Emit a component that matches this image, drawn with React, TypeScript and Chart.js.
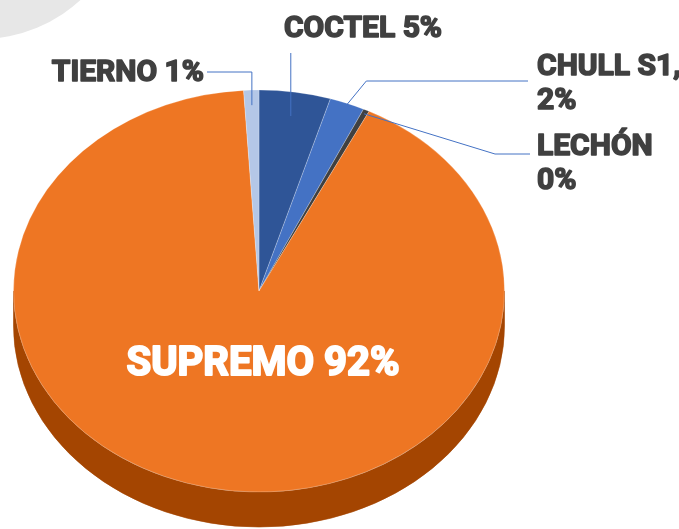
import React, { useEffect, useRef } from 'react';
import { Chart, registerables } from 'chart.js';

Chart.register(...registerables);

const categories = ['COCTEL', 'CHULL S1', 'LECHÓN', 'SUPREMO', 'TIERNO'];
const shares = [4.7, 2.3, 0.4, 91.6, 1.0];
const labelLines = [['COCTEL 5%'], ['CHULL S1,', '2%'], ['LECHÓN', '0%'], ['SUPREMO 92%'], ['TIERNO 1%']];
const topColors = ['#2F5597', '#4472C4', '#404040', '#EE7623', '#B4C7E7'];
const sideColors = ['#203C6B', '#2F528F', '#262626', '#A44501', '#8497B0'];

const CY = 291;
const RY = 201;
const DEPTH = 35;

function geom(chart: any) {
  const meta = chart.getDatasetMeta(0);
  const a = meta.data[0] as any;
  return { x: a.x, y: a.y, R: a.outerRadius, ky: RY / a.outerRadius, arcs: meta.data };
}

function applyT(ctx: CanvasRenderingContext2D, g: any, dy: number) {
  ctx.translate(g.x, CY + dy);
  ctx.scale(1, g.ky);
  ctx.translate(-g.x, -g.y);
}

const pie3d = {
  id: 'pie3d',
  beforeDraw(chart: any) {
    const ctx = chart.ctx;
    ctx.save();
    ctx.fillStyle = '#E7E7E7';
    ctx.beginPath();
    ctx.arc(-20, -110, 149, 0, Math.PI * 2);
    ctx.fill();
    ctx.restore();
  },
  beforeDatasetsDraw(chart: any) {
    const ctx: CanvasRenderingContext2D = chart.ctx;
    const g = geom(chart);
    const rx = g.R;
    const ry = RY;
    const TAU = Math.PI * 2;
    g.arcs.forEach((el: any, i: number) => {
      const p = el.getProps(['startAngle', 'endAngle'], true);
      [0, -TAU, TAU].forEach((shift) => {
        const s = Math.max(p.startAngle + shift, 0);
        const e = Math.min(p.endAngle + shift, Math.PI);
        if (e <= s) return;
        ctx.save();
        ctx.beginPath();
        ctx.ellipse(g.x, CY, rx, ry, 0, s, e, false);
        ctx.lineTo(g.x + Math.cos(e) * rx, CY + DEPTH + Math.sin(e) * ry);
        ctx.ellipse(g.x, CY + DEPTH, rx, ry, 0, e, s, true);
        ctx.closePath();
        ctx.fillStyle = sideColors[i];
        ctx.fill();
        ctx.strokeStyle = sideColors[i];
        ctx.lineWidth = 0.6;
        ctx.stroke();
        ctx.restore();
      });
    });
    ctx.save();
    applyT(ctx, g, 0);
  },
  afterDatasetsDraw(chart: any) {
    chart.ctx.restore();
  },
};

const labelPlugin = {
  id: 'pieLabels',
  afterDraw(chart: any) {
    const ctx: CanvasRenderingContext2D = chart.ctx;
    const g = geom(chart);
    const anchor = (i: number, f: number) => {
      const p = g.arcs[i].getProps(['startAngle', 'endAngle'], true);
      const a = (p.startAngle + p.endAngle) / 2;
      return { x: g.x + Math.cos(a) * g.R * f, y: CY + Math.sin(a) * g.R * f * g.ky };
    };
    const layout = [
      { x: 363, y: 37, align: 'center', f: 0.88, size: 30, path: (a: any) => [[a.x, 53], [a.x, a.y]] },
      { x: 537, y: 75, align: 'left', f: 0.99, size: 30, path: (a: any) => [[528, 81], [a.x + 20, 81], [a.x, a.y]] },
      { x: 537, y: 155, align: 'left', f: 0.98, size: 30, path: (a: any) => [[530, 154], [495, 154], [a.x, a.y]] },
      { x: 263, y: 375, align: 'center', f: 0, size: 40, path: null },
      { x: 204, y: 81, align: 'right', f: 0.925, size: 30, path: (a: any) => [[207, 72], [a.x, 72], [a.x, a.y]] },
    ];
    ctx.save();
    layout.forEach((L, i) => {
      if (L.path) {
        const a = anchor(i, L.f);
        const pts = L.path(a);
        ctx.strokeStyle = '#4472C4';
        ctx.lineWidth = 1;
        ctx.beginPath();
        pts.forEach((pt: number[], k: number) => (k === 0 ? ctx.moveTo(pt[0], pt[1]) : ctx.lineTo(pt[0], pt[1])));
        ctx.stroke();
      }
      ctx.font = `bold ${L.size}px Roboto, "DejaVu Sans", sans-serif`;
      ctx.textAlign = L.align as CanvasTextAlign;
      ctx.textBaseline = 'alphabetic';
      const col = i === 3 ? '#FFFFFF' : '#404040';
      ctx.fillStyle = col;
      ctx.strokeStyle = col;
      ctx.lineWidth = i === 3 ? 2 : 1.6;
      ctx.lineJoin = 'round';
      labelLines[i].forEach((t, k) => {
        ctx.fillText(t, L.x, L.y + k * 34);
        ctx.strokeText(t, L.x, L.y + k * 34);
      });
    });
    ctx.restore();
  },
};

export default function App() {
  const ref = useRef<HTMLCanvasElement>(null);
  useEffect(() => {
    if (!ref.current) return;
    const chart = new Chart(ref.current, {
      type: 'pie',
      data: {
        labels: categories,
        datasets: [
          {
            data: shares,
            backgroundColor: topColors,
            borderColor: 'rgba(255,255,255,0.25)',
            borderWidth: 1,
            clip: false as any,
          } as any,
        ],
      },
      options: {
        responsive: false,
        animation: false,
        events: [],
        layout: { padding: { left: 13, right: 174, top: 18, bottom: 19 } },
        plugins: { legend: { display: false }, tooltip: { enabled: false } },
      },
      plugins: [pie3d, labelPlugin],
    });
    return () => chart.destroy();
  }, []);
  return (
    <div style={{ position: 'fixed', left: 0, top: 0, width: 679, height: 529, background: '#fff' }}>
      <canvas ref={ref} width={679} height={529} style={{ width: 679, height: 529, display: 'block' }} />
    </div>
  );
}
